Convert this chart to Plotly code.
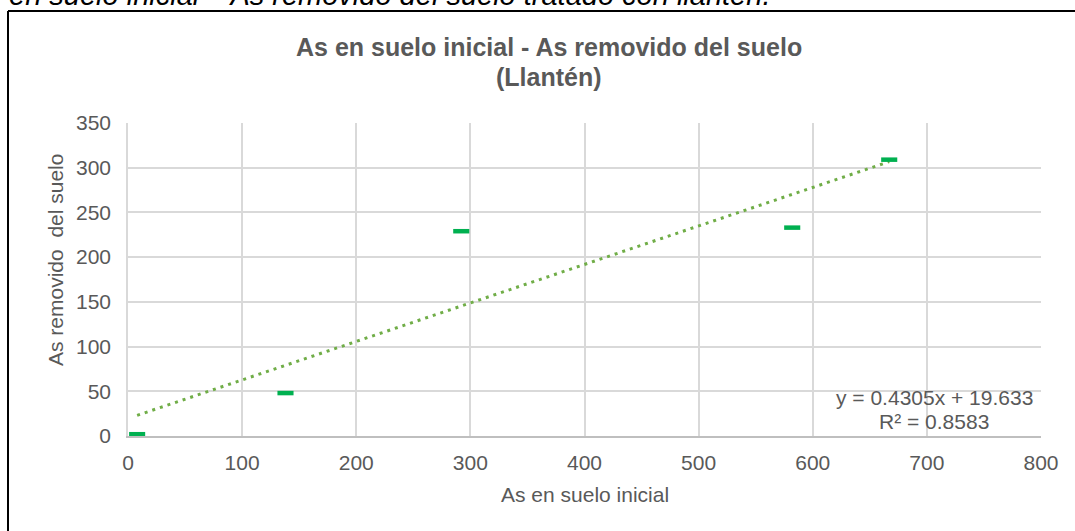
import plotly.graph_objects as go

# ---- data ----
as_inicial = [8, 138, 292, 582, 667]          # As en suelo inicial
as_removido = [2, 48, 229, 233, 309]          # As removido del suelo
trend_slope = 0.4305
trend_intercept = 19.633
r_squared = 0.8583
x_ticks = [0, 100, 200, 300, 400, 500, 600, 700, 800]
y_ticks = [0, 50, 100, 150, 200, 250, 300, 350]

W, H = 1075, 531
L, R, T, B = 128, 1041, 123, 436  # plot area in pixels


def px(x):
    return (x - L) / (R - L)


def py(y):
    return (B - y) / (B - T)


FONT = "Liberation Sans, Arial, sans-serif"
GREY = "#595959"

x_tr = [min(as_inicial), max(as_inicial)]
y_tr = [trend_slope * v + trend_intercept for v in x_tr]

fig = go.Figure()
fig.add_trace(go.Scatter(
    x=x_tr, y=y_tr, mode="lines",
    line=dict(color="#70AD47", width=3, dash="3px,5px"),
    hoverinfo="skip", showlegend=False))
fig.add_trace(go.Scatter(
    x=as_inicial, y=as_removido, mode="markers",
    marker=dict(symbol="line-ew", size=11.5,
                line=dict(color="#00B050", width=4.5)),
    cliponaxis=False, showlegend=False))

ann = []
# cropped caption at top
ann.append(dict(text="<i>en suelo inicial – As removido del suelo tratado con llantén.</i>",
                x=px(7), y=py(13), xref="paper", yref="paper",
                xanchor="left", yanchor="bottom", showarrow=False,
                font=dict(family=FONT, size=29, color="#000000")))
# chart title
ann.append(dict(text="<b>As en suelo inicial - As removido del suelo</b>",
                x=px(549), y=py(47), xref="paper", yref="paper",
                xanchor="center", yanchor="middle", showarrow=False,
                font=dict(family=FONT, size=25, color=GREY)))
ann.append(dict(text="<b>(Llantén)</b>",
                x=px(549), y=py(77), xref="paper", yref="paper",
                xanchor="center", yanchor="middle", showarrow=False,
                font=dict(family=FONT, size=25, color=GREY)))
# axis titles
ann.append(dict(text="As en suelo inicial",
                x=px(585), y=py(495), xref="paper", yref="paper",
                xanchor="center", yanchor="middle", showarrow=False,
                font=dict(family=FONT, size=21, color=GREY)))
ann.append(dict(text="As removido  del suelo",
                x=px(55), y=py(260), xref="paper", yref="paper",
                xanchor="center", yanchor="middle", showarrow=False, textangle=-90,
                font=dict(family=FONT, size=21, color=GREY)))
# equation
ann.append(dict(text=f"y = {trend_slope}x + {trend_intercept}",
                x=px(934), y=py(397), xref="paper", yref="paper",
                xanchor="center", yanchor="middle", showarrow=False,
                font=dict(family=FONT, size=21, color=GREY)))
ann.append(dict(text=f"R² = {r_squared}",
                x=px(934), y=py(421), xref="paper", yref="paper",
                xanchor="center", yanchor="middle", showarrow=False,
                font=dict(family=FONT, size=21, color=GREY)))

shapes = [
    dict(type="line", xref="paper", yref="paper",
         x0=px(8), x1=px(1100), y0=py(11), y1=py(11),
         line=dict(color="#000000", width=2)),
    dict(type="line", xref="paper", yref="paper",
         x0=px(8), x1=px(8), y0=py(11), y1=py(560),
         line=dict(color="#000000", width=2)),
]

fig.update_layout(
    width=W, height=H,
    margin=dict(l=L, r=W - R, t=T, b=H - B, pad=0),
    paper_bgcolor="white", plot_bgcolor="white",
    annotations=ann, shapes=shapes,
    font=dict(family=FONT, size=21, color=GREY),
    xaxis=dict(range=[0, 800], tickvals=x_ticks, showgrid=True,
               gridcolor="#D9D9D9", gridwidth=1.5, zeroline=False,
               showline=True, linecolor="#BFBFBF", linewidth=1.5,
               ticks="", ticklabelstandoff=7,
               tickfont=dict(family=FONT, size=21, color=GREY)),
    yaxis=dict(range=[0, 350], tickvals=y_ticks, showgrid=True,
               gridcolor="#D9D9D9", gridwidth=1.5, zeroline=False,
               showline=True, linecolor="#D9D9D9", linewidth=1.5,
               ticks="", ticklabelstandoff=11,
               tickfont=dict(family=FONT, size=21, color=GREY)),
)

fig.write_html("out.html",
               config={"displayModeBar": False},
               post_script="document.body.style.margin='0';document.body.style.overflow='hidden';")
